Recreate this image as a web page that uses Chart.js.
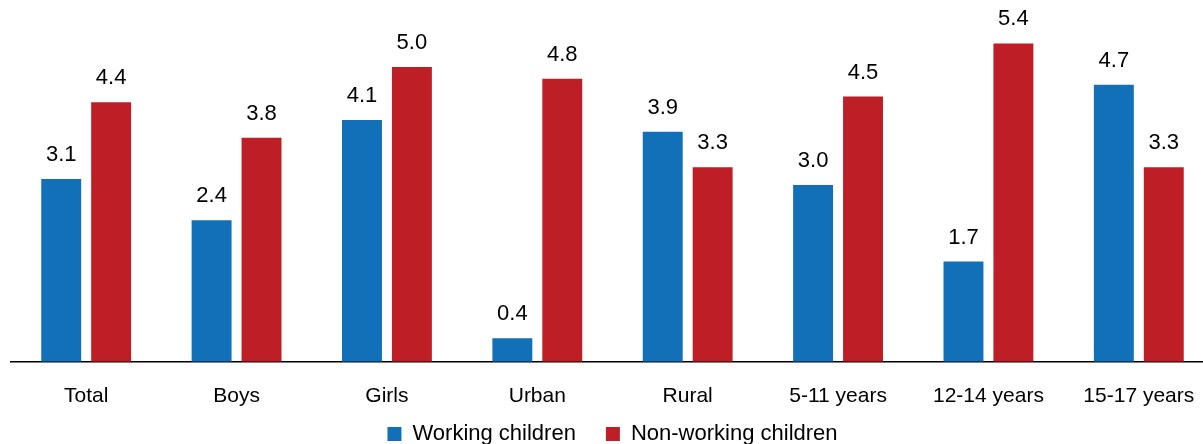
<!DOCTYPE html>
<html>
<head>
<meta charset="utf-8">
<script src="https://cdn.jsdelivr.net/npm/chart.js@4/dist/chart.umd.min.js"></script>
<style>
	html, body { margin: 0; padding: 0; background: #fff; overflow: hidden; }
	#wrap { position: relative; width: 1214px; height: 455px; }
</style>
</head>
<body>
<div id="wrap"><canvas id="chart"></canvas></div>
<script>
// categories + values
const categories = ['Total', 'Boys', 'Girls', 'Urban', 'Rural', '5-11 years', '12-14 years', '15-17 years'];
const workingChildren = [3.1, 2.4, 4.1, 0.4, 3.9, 3.0, 1.7, 4.7];
const nonWorkingChildren = [4.4, 3.8, 5.0, 4.8, 3.3, 4.5, 5.4, 3.3];
const seriesNames = ['Working children', 'Non-working children'];

const FONT = '"Liberation Sans", Arial, sans-serif';

// petit plugin maison pour les valeurs au-dessus des barres (pas de datalabels dispo)
const valueLabels = {
	id: 'valueLabels',
	afterDatasetsDraw(chart) {
		const ctx = chart.ctx;
		ctx.save();
		ctx.font = '22px ' + FONT;
		ctx.fillStyle = '#000';
		ctx.textAlign = 'center';
		ctx.textBaseline = 'middle';
		chart.data.datasets.forEach((ds, i) => {
			chart.getDatasetMeta(i).data.forEach((bar, j) => {
				ctx.fillText(ds.data[j].toFixed(1), bar.x, bar.y - 24);
			});
		});
		ctx.restore();
	}
};

new Chart(document.getElementById('chart').getContext('2d'), {
	type: 'bar',
	data: {
		labels: categories,
		datasets: [
			{ label: seriesNames[0], data: workingChildren, backgroundColor: '#1170b8' },
			{ label: seriesNames[1], data: nonWorkingChildren, backgroundColor: '#be1e25' }
		]
	},
	options: {
		responsive: true,
		maintainAspectRatio: false,
		animation: false,
		categoryPercentage: 0.664,
		barPercentage: 0.8,
		layout: { padding: { left: 11, right: 0, top: 8, bottom: 0 } },
		scales: {
			x: {
				grid: { display: false },
				border: { display: true, color: '#000', width: 1.5 },
				ticks: { color: '#000', font: { family: FONT, size: 21 }, padding: 14 },
				afterFit: (scale) => {
					scale.height = scale.height - 30; // remonte la legende sous les labels
					scale._computeLabelArea = () => undefined; // sinon les labels sont coupes
				}
			},
			y: {
				display: false,
				min: 0,
				max: 6
			}
		},
		plugins: {
			legend: {
				position: 'bottom',
				labels: {
					color: '#000',
					font: { family: FONT, size: 22 },
					boxWidth: 14,
					boxHeight: 14,
					padding: 30
				}
			},
			tooltip: { enabled: false }
		}
	},
	plugins: [valueLabels]
});
</script>
</body>
</html>
